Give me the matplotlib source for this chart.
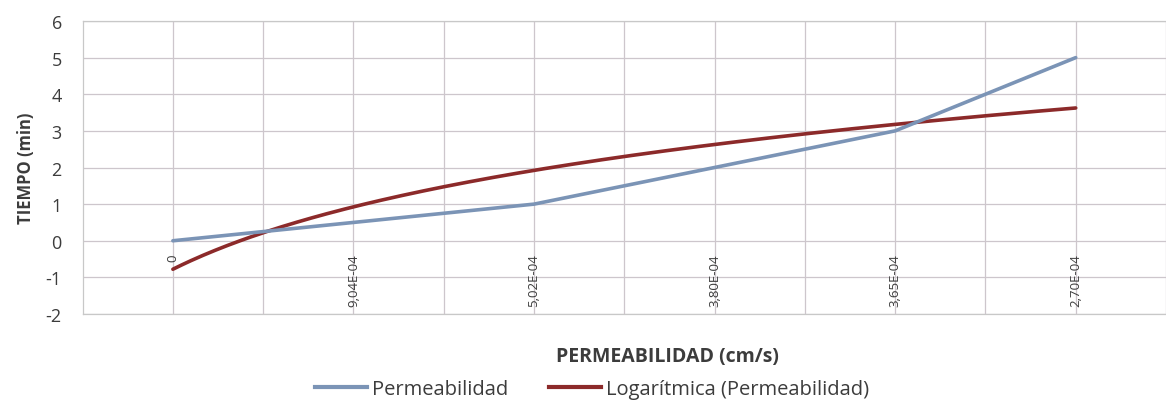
import numpy as np
import matplotlib
matplotlib.use("Agg")
import matplotlib.pyplot as plt
from matplotlib.lines import Line2D

plt.rcParams['font.family'] = ['Open Sans', 'DejaVu Sans']

# Data
categories = ["0", "9,04E-04", "5,02E-04", "3,80E-04", "3,65E-04", "2,70E-04"]
tiempo = [0, 0.5, 1, 2, 3, 5]

blue = '#7b94b6'
red = '#8c2a2a'
txt = '#3c3c3c'

W, H = 1166, 402
fig = plt.figure(figsize=(W/100, H/100), dpi=100)
left_px = 82.6
ax = fig.add_axes([left_px/W, 1-315/H, (W-left_px)/W, (315-22)/H])

x = np.arange(len(categories))
# logarithmic trendline (Excel style: x = 1..n)
xn = x + 1
a, b = np.polyfit(np.log(xn), tiempo, 1)
xs = np.linspace(1, len(categories), 300)
ax.plot(xs - 1, a*np.log(xs) + b, color=red, lw=2.6, solid_capstyle='round', zorder=3)
ax.plot(x, tiempo, color=blue, lw=2.6, solid_capstyle='round', zorder=4)

ax.set_xlim(-0.5, 5.427)
ax.set_ylim(-2, 6)
ax.set_yticks(range(-2, 7))
ax.set_yticklabels([str(v) for v in range(-2, 7)], fontsize=13, color=txt)
ax.set_xticks(np.arange(0, 5.6, 0.5))
ax.set_xticklabels([])
ax.tick_params(length=0, pad=15)
ax.grid(True, color='#cdc6cc', lw=0.9)
ax.set_axisbelow(True)
for s in ax.spines.values():
    s.set_color('#c8c8c8')
    s.set_linewidth(0.9)
ax.spines['right'].set_visible(False)

for i, lab in enumerate(categories):
    ax.annotate(lab, xy=(i, 0), xytext=(0, -9), textcoords='offset points',
                rotation=90, ha='center', va='top', fontsize=9.5, color=txt)

ax.set_ylabel('TIEMPO (min)', fontsize=12, fontweight='bold', color=txt, labelpad=8)
fig.text(667/W, 1-357/H, 'PERMEABILIDAD (cm/s)', ha='center', va='center',
         fontsize=14, fontweight='bold', color=txt)

handles = [Line2D([], [], color=blue, lw=3), Line2D([], [], color=red, lw=3)]
fig.legend(handles, ['Permeabilidad', 'Logarítmica (Permeabilidad)'],
           loc='center left', bbox_to_anchor=(315/W, 1-390/H), ncol=2, frameon=False,
           borderpad=0, borderaxespad=0,
           fontsize=14.5, handlelength=2.6, handletextpad=0.25, columnspacing=2.0,
           labelcolor=txt)

fig.savefig('out.png', dpi=100, facecolor='white')
